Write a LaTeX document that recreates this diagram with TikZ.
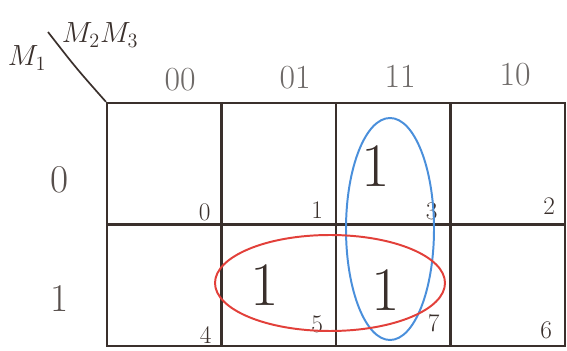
\documentclass[tikz,border=0pt]{standalone}
\definecolor{PencilDark}{HTML}{3A302C}
\definecolor{PencilGray}{HTML}{6E6A68}
\definecolor{MarkBlue}{HTML}{4A8FDB}
\definecolor{MarkRed}{HTML}{E2403A}
\usepackage{tikz}
\usetikzlibrary{positioning, calc}

\begin{document}
\begin{tikzpicture}[
    x=0.25mm, y=-0.25mm,
    cell/.style={draw=PencilDark, line width=1.6pt, minimum width=28.6mm, minimum height=30.4mm, inner sep=0pt},
    idx/.style={text=PencilDark, font=\fontsize{18}{19}\selectfont},
    one/.style={text=PencilDark, font=\fontsize{44}{46}\selectfont},
    head/.style={text=PencilGray, font=\fontsize{24}{25}\selectfont},
    rowlab/.style={text=PencilDark!85, font=\fontsize{28}{29}\selectfont},
    mlab/.style={text=PencilDark, font=\fontsize{22}{23}\selectfont},
    ring/.style={line width=1.4pt}
]
    \useasboundingbox (0,0) rectangle (567,351);
    % grid cells
    \node[cell] (c0) at (164.25,163.75) {};
    \node[cell] (c1) at (278.75,163.75) {};
    \node[cell] (c3) at (393.25,163.75) {};
    \node[cell] (c2) at (507.75,163.75) {};
    \node[cell] (c4) at (164.25,285.25) {};
    \node[cell] (c5) at (278.75,285.25) {};
    \node[cell] (c7) at (393.25,285.25) {};
    \node[cell] (c6) at (507.75,285.25) {};
    % cell numbers
    \node[idx] (n0) at ([shift={(-18,-13)}]c0.south east) {0};
    \node[idx] (n1) at ([shift={(-20,-16)}]c1.south east) {1};
    \node[idx] (n3) at ([shift={(-20,-14)}]c3.south east) {3};
    \node[idx] (n2) at ([shift={(-17,-20)}]c2.south east) {2};
    \node[idx] (n4) at ([shift={(-17,-12)}]c4.south east) {4};
    \node[idx] (n5) at ([shift={(-20,-23)}]c5.south east) {5};
    \node[idx] (n7) at ([shift={(-18,-24)}]c7.south east) {7};
    \node[idx] (n6) at ([shift={(-20,-17)}]c6.south east) {6};
    % entries
    \node[one] (v3) at ([shift={(-18,2)}]c3.center) {1};
    \node[one] (v5) at ([shift={(-14,0)}]c5.center) {1};
    \node[one] (v7) at ([shift={(-8,5)}]c7.center) {1};
    % headings
    \node[head] (h00) at (180,80) {00};
    \node[head] (h01) at (295,78) {01};
    \node[head] (h11) at (400,76) {11};
    \node[head] (h10) at (515,75) {10};
    \node[rowlab] (r0) at (60,180) {0};
    \node[rowlab] (r1) at (60,298) {1};
    \node[mlab] (mrow) at (27,58) {$M_1$};
    \node[mlab] (mcol) at (100,35) {$M_2M_3$};
    \coordinate (dtop) at (48,32);
    \draw[PencilDark, line width=1.2pt] (dtop) .. controls (76,68) .. (c0.north west);
    % groups
    \draw[ring, MarkBlue] (390,229) ellipse (44 and 111);
    \draw[ring, MarkRed] (330,283) ellipse (115 and 48);
\end{tikzpicture}
\end{document}
